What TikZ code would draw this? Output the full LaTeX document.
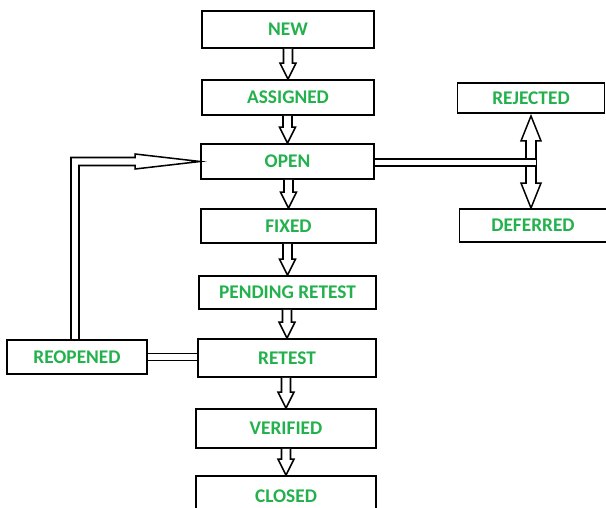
\documentclass[tikz,border=0pt]{standalone}
\usepackage{fontspec}
\setmainfont{Carlito}
\usepackage{tikz}
\usetikzlibrary{calc}

\definecolor{labelgreen}{RGB}{34,177,76}

\tikzset{
  state/.style={draw, line width=1.6pt, inner sep=0pt, text=labelgreen,
    font=\fontsize{16.5}{19}\selectfont\bfseries},
  hollow/.style={line width=1.3pt, line join=miter, fill=white},
  pipe/.style={line width=1.3pt, double=white, double distance=0.17cm}
}

\begin{document}
\begin{tikzpicture}[x=0.03cm, y=-0.03cm]
     \useasboundingbox (0,0) rectangle (606,508);
     % main column
     \node[state, minimum width=172*0.03cm, minimum height=37*0.03cm] (new) at (288,29.5) {NEW};
     \node[state, minimum width=172*0.03cm, minimum height=35*0.03cm] (assigned) at (288,97.5) {ASSIGNED};
     \node[state, minimum width=173*0.03cm, minimum height=35*0.03cm] (open) at (287.5,161.5) {OPEN};
     \node[state, minimum width=175*0.03cm, minimum height=34*0.03cm] (fixed) at (288.5,226) {FIXED};
     \node[state, minimum width=177*0.03cm, minimum height=33*0.03cm] (pending) at (287.5,292.5) {PENDING RETEST};
     \node[state, minimum width=178*0.03cm, minimum height=38*0.03cm] (retest) at (287,358) {RETEST};
     \node[state, minimum width=180*0.03cm, minimum height=39*0.03cm] (verified) at (286,428.5) {VERIFIED};
     \node[state, minimum width=180*0.03cm, minimum height=40*0.03cm] (closed) at (286,496) {CLOSED};
     % side boxes
     \node[state, minimum width=147*0.03cm, minimum height=30*0.03cm] (rejected) at (531,98) {REJECTED};
     \node[state, minimum width=147*0.03cm, minimum height=33*0.03cm] (deferred) at (533,225.5) {DEFERRED};
     \node[state, minimum width=140*0.03cm, minimum height=34*0.03cm] (reopened) at (77,357) {REOPENED};

     % arrows down the column
     \foreach \a/\b in {new/assigned, assigned/open, open/fixed, fixed/pending,
                        pending/retest, retest/verified, verified/closed}
       \draw[hollow] ($(\a.south -| \b.north)+(-4.5,0)$) -- ($(\b.north)+(-4.5,-16)$)
         -- ($(\b.north)+(-8,-16)$) -- (\b.north) -- ($(\b.north)+(8,-16)$)
         -- ($(\b.north)+(4.5,-16)$) -- ($(\a.south -| \b.north)+(4.5,0)$);

     % open -> rejected / deferred
     \coordinate (rtip) at ($(rejected.south)+(0,2)$);
     \coordinate (dtip) at (rejected.south |- deferred.north);
     \draw[hollow] (rtip) -- ($(rtip)+(10,25)$) -- ($(rtip)+(5,25)$) -- ($(dtip)+(5,-25)$)
       -- ($(dtip)+(10,-25)$) -- (dtip) -- ($(dtip)+(-10,-25)$) -- ($(dtip)+(-5,-25)$)
       -- ($(rtip)+(-5,25)$) -- ($(rtip)+(-10,25)$) -- cycle;
     \draw[pipe] ($(open.east)+(0,1)$) -- ($(rtip |- open.east)+(5,1)$);

     % reopened -> open
     \coordinate (rtop) at ($(reopened.north)+(-2,0)$);
     \draw[hollow, fill=none] ($(rtop)+(-4,0)$) |- ($(open.west)+(-65,-4)$)
       -- ($(open.west)+(-65,-7.5)$) -- (open.west) -- ($(open.west)+(-65,7.5)$)
       -- ($(open.west)+(-65,4)$) -| ($(rtop)+(4,0)$);
     \draw[pipe] (reopened.east) -- (reopened.east -| retest.west);
\end{tikzpicture}
\end{document}
